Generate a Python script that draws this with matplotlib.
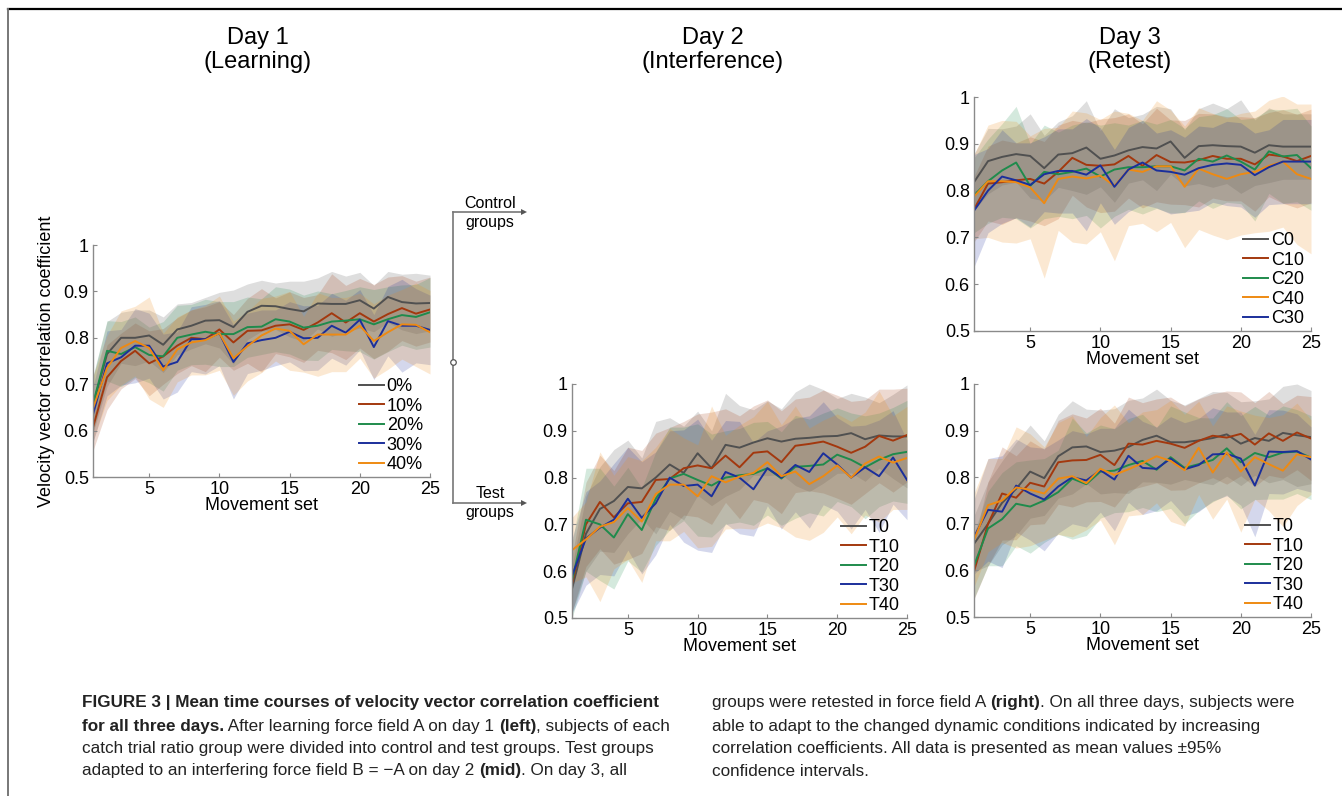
import matplotlib
matplotlib.use("Agg")
import matplotlib.pyplot as plt
from matplotlib.lines import Line2D
import numpy as np

W, H = 1342, 796
plt.rcParams['font.family'] = ['Liberation Sans', 'DejaVu Sans']

sets = np.arange(1, 26)
xticks = [5, 10, 15, 20, 25]
yticks = [0.5, 0.6, 0.7, 0.8, 0.9, 1.0]
colors = ['#505050', '#A3380E', '#1F8B4C', '#1B2F9B', '#EE8A12']

# ---------------- Day 1 (Learning) ----------------
d1_labels = ['0%', '10%', '20%', '30%', '40%']
d1_g0 = [0.655, 0.765, 0.800, 0.800, 0.805, 0.785, 0.818, 0.826, 0.837, 0.838, 0.823, 0.856, 0.869,
         0.868, 0.862, 0.857, 0.874, 0.873, 0.873, 0.881, 0.863, 0.888, 0.877, 0.874, 0.875]
d1_g10 = [0.607, 0.715, 0.750, 0.772, 0.745, 0.760, 0.783, 0.800, 0.797, 0.818, 0.790, 0.815, 0.816,
          0.826, 0.829, 0.817, 0.833, 0.853, 0.833, 0.853, 0.835, 0.851, 0.864, 0.852, 0.861]
d1_g20 = [0.658, 0.772, 0.765, 0.780, 0.763, 0.760, 0.800, 0.807, 0.813, 0.808, 0.808, 0.823, 0.824,
          0.840, 0.835, 0.822, 0.826, 0.835, 0.837, 0.840, 0.829, 0.840, 0.849, 0.845, 0.855]
d1_g30 = [0.635, 0.745, 0.758, 0.783, 0.783, 0.738, 0.748, 0.797, 0.797, 0.810, 0.748, 0.788, 0.795,
          0.800, 0.813, 0.799, 0.800, 0.826, 0.811, 0.839, 0.780, 0.836, 0.826, 0.826, 0.817]
d1_g40 = [0.648, 0.735, 0.778, 0.793, 0.778, 0.730, 0.775, 0.790, 0.795, 0.810, 0.756, 0.782, 0.805,
          0.820, 0.815, 0.786, 0.807, 0.807, 0.807, 0.826, 0.793, 0.812, 0.829, 0.828, 0.812]
d1_ci0 = [0.06, 0.07, 0.055, 0.06, 0.055, 0.06, 0.055, 0.05, 0.05, 0.06, 0.08, 0.06, 0.055,
          0.05, 0.06, 0.065, 0.055, 0.07, 0.06, 0.06, 0.05, 0.055, 0.06, 0.065, 0.06]
d1_ci10 = [0.05, 0.07, 0.06, 0.06, 0.07, 0.06, 0.06, 0.06, 0.07, 0.06, 0.06, 0.07, 0.09,
           0.06, 0.07, 0.07, 0.06, 0.085, 0.08, 0.075, 0.08, 0.08, 0.07, 0.07, 0.07]
d1_ci20 = [0.06, 0.065, 0.07, 0.065, 0.06, 0.075, 0.07, 0.065, 0.07, 0.07, 0.07, 0.065, 0.06,
           0.07, 0.07, 0.07, 0.075, 0.06, 0.065, 0.07, 0.075, 0.07, 0.065, 0.07, 0.075]
d1_ci30 = [0.06, 0.07, 0.06, 0.08, 0.07, 0.07, 0.065, 0.07, 0.075, 0.07, 0.08, 0.065, 0.065,
           0.06, 0.065, 0.07, 0.07, 0.07, 0.07, 0.065, 0.07, 0.075, 0.10, 0.08, 0.075]
d1_ci40 = [0.07, 0.07, 0.08, 0.075, 0.11, 0.08, 0.07, 0.07, 0.075, 0.08, 0.08, 0.075, 0.08,
           0.07, 0.085, 0.06, 0.09, 0.08, 0.08, 0.07, 0.08, 0.08, 0.075, 0.09, 0.09]

# ---------------- Day 2 (Interference), test groups ----------------
d2_labels = ['T0', 'T10', 'T20', 'T30', 'T40']
d2_t0 = [0.562, 0.680, 0.733, 0.750, 0.780, 0.777, 0.800, 0.828, 0.810, 0.852, 0.820, 0.870, 0.864,
         0.875, 0.884, 0.877, 0.883, 0.885, 0.888, 0.889, 0.895, 0.882, 0.890, 0.888, 0.888]
d2_t10 = [0.573, 0.700, 0.748, 0.715, 0.745, 0.748, 0.795, 0.797, 0.820, 0.826, 0.820, 0.847, 0.822,
          0.853, 0.856, 0.833, 0.868, 0.872, 0.877, 0.866, 0.853, 0.866, 0.889, 0.879, 0.891]
d2_t20 = [0.580, 0.710, 0.700, 0.672, 0.722, 0.688, 0.755, 0.798, 0.808, 0.795, 0.783, 0.800, 0.805,
          0.808, 0.820, 0.798, 0.823, 0.825, 0.828, 0.849, 0.838, 0.822, 0.838, 0.850, 0.855]
d2_t30 = [0.590, 0.670, 0.693, 0.710, 0.755, 0.714, 0.745, 0.800, 0.782, 0.785, 0.760, 0.812, 0.800,
          0.775, 0.820, 0.800, 0.827, 0.812, 0.852, 0.828, 0.800, 0.822, 0.803, 0.843, 0.795]
d2_t40 = [0.645, 0.668, 0.695, 0.705, 0.735, 0.706, 0.765, 0.785, 0.785, 0.760, 0.803, 0.790, 0.802,
          0.810, 0.833, 0.803, 0.813, 0.786, 0.803, 0.826, 0.800, 0.830, 0.845, 0.832, 0.842]
d2_ci0 = [0.05, 0.08, 0.09, 0.11, 0.10, 0.065, 0.12, 0.10, 0.10, 0.09, 0.08, 0.11, 0.09,
          0.07, 0.08, 0.07, 0.10, 0.115, 0.10, 0.08, 0.085, 0.09, 0.07, 0.09, 0.11]
d2_ci10 = [0.06, 0.09, 0.10, 0.10, 0.12, 0.11, 0.10, 0.11, 0.10, 0.11, 0.12, 0.10, 0.11,
           0.10, 0.11, 0.11, 0.10, 0.10, 0.11, 0.11, 0.11, 0.10, 0.10, 0.11, 0.10]
d2_ci20 = [0.08, 0.11, 0.12, 0.11, 0.10, 0.09, 0.10, 0.11, 0.10, 0.12, 0.11, 0.10, 0.10,
           0.11, 0.10, 0.10, 0.11, 0.10, 0.11, 0.10, 0.10, 0.11, 0.10, 0.10, 0.11]
d2_ci30 = [0.08, 0.10, 0.10, 0.12, 0.11, 0.12, 0.11, 0.10, 0.12, 0.14, 0.12, 0.11, 0.12,
           0.10, 0.08, 0.11, 0.10, 0.12, 0.11, 0.10, 0.11, 0.09, 0.12, 0.10, 0.085]
d2_ci40 = [0.07, 0.08, 0.16, 0.10, 0.11, 0.13, 0.10, 0.12, 0.10, 0.11, 0.15, 0.10, 0.11,
           0.12, 0.13, 0.11, 0.14, 0.12, 0.12, 0.11, 0.12, 0.11, 0.14, 0.10, 0.11]

# ---------------- Day 3 (Retest), control groups ----------------
d3c_labels = ['C0', 'C10', 'C20', 'C40', 'C30']
d3c_c0 = [0.818, 0.863, 0.872, 0.878, 0.874, 0.848, 0.877, 0.880, 0.892, 0.868, 0.875, 0.886, 0.893,
          0.890, 0.905, 0.870, 0.895, 0.897, 0.895, 0.894, 0.881, 0.897, 0.894, 0.894, 0.894]
d3c_c10 = [0.760, 0.815, 0.818, 0.822, 0.825, 0.815, 0.840, 0.870, 0.855, 0.853, 0.856, 0.874, 0.853,
           0.876, 0.861, 0.860, 0.865, 0.874, 0.868, 0.868, 0.856, 0.877, 0.873, 0.863, 0.874]
d3c_c20 = [0.790, 0.820, 0.843, 0.860, 0.810, 0.840, 0.835, 0.840, 0.847, 0.830, 0.845, 0.850, 0.850,
           0.852, 0.852, 0.843, 0.868, 0.862, 0.875, 0.862, 0.845, 0.884, 0.873, 0.876, 0.848]
d3c_c40 = [0.787, 0.820, 0.820, 0.818, 0.807, 0.773, 0.825, 0.830, 0.826, 0.832, 0.810, 0.845, 0.840,
           0.852, 0.852, 0.808, 0.847, 0.835, 0.825, 0.835, 0.840, 0.853, 0.862, 0.835, 0.825]
d3c_c30 = [0.757, 0.800, 0.830, 0.822, 0.812, 0.835, 0.842, 0.842, 0.834, 0.854, 0.808, 0.845, 0.860,
           0.843, 0.840, 0.834, 0.848, 0.855, 0.858, 0.855, 0.833, 0.850, 0.862, 0.862, 0.862]
d3c_ci0 = [0.06, 0.07, 0.06, 0.06, 0.09, 0.07, 0.07, 0.08, 0.10, 0.06, 0.10, 0.07, 0.07,
           0.09, 0.07, 0.06, 0.08, 0.09, 0.08, 0.10, 0.07, 0.08, 0.07, 0.07, 0.07]
d3c_ci10 = [0.07, 0.08, 0.09, 0.08, 0.09, 0.09, 0.10, 0.08, 0.09, 0.10, 0.10, 0.09, 0.09,
            0.10, 0.09, 0.09, 0.10, 0.09, 0.09, 0.09, 0.10, 0.09, 0.10, 0.10, 0.10]
d3c_ci20 = [0.08, 0.09, 0.10, 0.12, 0.09, 0.10, 0.09, 0.10, 0.10, 0.11, 0.10, 0.09, 0.10,
            0.09, 0.10, 0.09, 0.09, 0.10, 0.10, 0.09, 0.11, 0.09, 0.10, 0.10, 0.09]
d3c_ci40 = [0.09, 0.12, 0.13, 0.13, 0.11, 0.16, 0.11, 0.14, 0.14, 0.12, 0.16, 0.12, 0.11,
            0.14, 0.12, 0.13, 0.13, 0.13, 0.13, 0.13, 0.13, 0.14, 0.14, 0.15, 0.16]
d3c_ci30 = [0.12, 0.09, 0.10, 0.08, 0.09, 0.08, 0.09, 0.09, 0.12, 0.08, 0.08, 0.09, 0.09,
            0.08, 0.09, 0.08, 0.09, 0.08, 0.09, 0.09, 0.09, 0.08, 0.09, 0.09, 0.09]

# ---------------- Day 3 (Retest), test groups ----------------
d3t_labels = ['T0', 'T10', 'T20', 'T30', 'T40']
d3t_t0 = [0.657, 0.700, 0.745, 0.775, 0.812, 0.798, 0.845, 0.864, 0.866, 0.854, 0.857, 0.865, 0.880,
          0.889, 0.875, 0.875, 0.879, 0.884, 0.892, 0.872, 0.884, 0.878, 0.895, 0.890, 0.886]
d3t_t10 = [0.598, 0.700, 0.765, 0.756, 0.788, 0.780, 0.832, 0.836, 0.837, 0.848, 0.826, 0.872, 0.870,
           0.878, 0.872, 0.863, 0.878, 0.889, 0.885, 0.893, 0.870, 0.894, 0.878, 0.896, 0.883]
d3t_t20 = [0.610, 0.690, 0.710, 0.743, 0.737, 0.750, 0.768, 0.797, 0.785, 0.812, 0.814, 0.826, 0.835,
           0.816, 0.843, 0.820, 0.828, 0.837, 0.862, 0.832, 0.852, 0.843, 0.853, 0.855, 0.842]
d3t_t30 = [0.672, 0.730, 0.726, 0.782, 0.765, 0.752, 0.780, 0.800, 0.793, 0.815, 0.795, 0.846, 0.820,
           0.818, 0.840, 0.817, 0.826, 0.849, 0.850, 0.840, 0.782, 0.855, 0.854, 0.856, 0.838]
d3t_t40 = [0.665, 0.740, 0.750, 0.778, 0.773, 0.765, 0.797, 0.802, 0.787, 0.818, 0.805, 0.817, 0.830,
           0.845, 0.835, 0.815, 0.863, 0.810, 0.853, 0.812, 0.843, 0.828, 0.814, 0.849, 0.843]
d3t_ci0 = [0.06, 0.09, 0.09, 0.10, 0.10, 0.08, 0.09, 0.10, 0.08, 0.09, 0.09, 0.10, 0.09,
           0.10, 0.09, 0.08, 0.09, 0.10, 0.09, 0.09, 0.08, 0.09, 0.10, 0.11, 0.10]
d3t_ci10 = [0.06, 0.09, 0.10, 0.09, 0.09, 0.08, 0.09, 0.10, 0.09, 0.10, 0.09, 0.10, 0.09,
            0.09, 0.10, 0.09, 0.09, 0.09, 0.10, 0.09, 0.09, 0.09, 0.08, 0.08, 0.09]
d3t_ci20 = [0.07, 0.08, 0.10, 0.09, 0.10, 0.09, 0.09, 0.13, 0.11, 0.10, 0.09, 0.10, 0.10,
            0.09, 0.11, 0.12, 0.10, 0.09, 0.10, 0.10, 0.10, 0.09, 0.10, 0.09, 0.09]
d3t_ci30 = [0.08, 0.11, 0.12, 0.10, 0.10, 0.11, 0.10, 0.10, 0.10, 0.09, 0.11, 0.10, 0.10,
            0.09, 0.09, 0.10, 0.10, 0.10, 0.09, 0.10, 0.11, 0.09, 0.09, 0.08, 0.07]
d3t_ci40 = [0.10, 0.10, 0.09, 0.13, 0.12, 0.10, 0.12, 0.13, 0.10, 0.11, 0.15, 0.10, 0.11,
            0.10, 0.13, 0.12, 0.10, 0.10, 0.10, 0.13, 0.09, 0.10, 0.12, 0.11, 0.08]

panel_titles = ['Day 1\n(Learning)', 'Day 2\n(Interference)', 'Day 3\n(Retest)']
ylabel_text = 'Velocity vector correlation coefficient'
xlabel_text = 'Movement set'

fig = plt.figure(figsize=(W / 100, H / 100), dpi=100)


def px_axes(left, top, right, bottom):
    return fig.add_axes([left / W, 1 - bottom / H, (right - left) / W, (bottom - top) / H])


def fx(x):
    return x / W


def fy(y):
    return 1 - y / H


def draw_panel(ax, means, cis, labels, cols, show_ylabel=False):
    for m, c, col in zip(means, cis, cols):
        m = np.array(m)
        c = np.array(c)
        ax.fill_between(sets, m - c, m + c, color=col, alpha=0.19, linewidth=0)
    handles = []
    for m, lab, col in zip(means, labels, cols):
        h, = ax.plot(sets, m, color=col, lw=1.4, label=lab)
        handles.append(h)
    ax.set_xlim(1, 25)
    ax.set_ylim(0.5, 1.0)
    ax.set_xticks(xticks)
    ax.set_yticks(yticks)
    ax.set_yticklabels(['%g' % v for v in yticks])
    for s in ['top', 'right']:
        ax.spines[s].set_visible(False)
    for s in ['left', 'bottom']:
        ax.spines[s].set_color('#8a8a8a')
        ax.spines[s].set_linewidth(1.0)
    ax.tick_params(direction='in', length=3, color='#8a8a8a', labelsize=13, pad=3)
    ax.set_xlabel(xlabel_text, fontsize=13, labelpad=-1)
    if show_ylabel:
        ax.set_ylabel(ylabel_text, fontsize=13, labelpad=6)
    ax.legend(handles=handles, loc='lower right', frameon=False, fontsize=13,
              handlelength=1.4, handletextpad=0.15, labelspacing=0.14,
              borderaxespad=0.0, bbox_to_anchor=(1.0, -0.015))
    ax.patch.set_alpha(0)


ax1 = px_axes(93, 245, 430, 477)
draw_panel(ax1, [d1_g0, d1_g10, d1_g20, d1_g30, d1_g40],
           [d1_ci0, d1_ci10, d1_ci20, d1_ci30, d1_ci40], d1_labels, colors, show_ylabel=True)

ax2 = px_axes(572, 384, 907, 618)
draw_panel(ax2, [d2_t0, d2_t10, d2_t20, d2_t30, d2_t40],
           [d2_ci0, d2_ci10, d2_ci20, d2_ci30, d2_ci40], d2_labels, colors)

ax3 = px_axes(974, 97, 1311, 331)
c3 = [colors[0], colors[1], colors[2], colors[4], colors[3]]
draw_panel(ax3, [d3c_c0, d3c_c10, d3c_c20, d3c_c40, d3c_c30],
           [d3c_ci0, d3c_ci10, d3c_ci20, d3c_ci40, d3c_ci30], d3c_labels, c3)

ax4 = px_axes(974, 384, 1311, 617)
draw_panel(ax4, [d3t_t0, d3t_t10, d3t_t20, d3t_t30, d3t_t40],
           [d3t_ci0, d3t_ci10, d3t_ci20, d3t_ci30, d3t_ci40], d3t_labels, colors)

# Column titles
for xc, t in zip([258, 713, 1130], panel_titles):
    fig.text(fx(xc), fy(50), t, ha='center', va='center', fontsize=17, linespacing=1.15)

# Branch diagram
gcol = '#777777'
fig.add_artist(Line2D([fx(453), fx(453)], [fy(212), fy(503)], color=gcol, lw=1.2))
fig.add_artist(Line2D([fx(453)], [fy(362)], marker='o', ms=4, mfc='white', mec='#555555', mew=0.9))
for yy in [212, 503]:
    fig.add_artist(Line2D([fx(453), fx(522)], [fy(yy), fy(yy)], color=gcol, lw=1.2))
    fig.add_artist(Line2D([fx(524)], [fy(yy)], marker='>', ms=4, color='#555555', mew=0))
fig.text(fx(490), fy(203), 'Control', ha='center', va='center', fontsize=11.5)
fig.text(fx(490), fy(223), 'groups', ha='center', va='center', fontsize=11.5)
fig.text(fx(490), fy(493), 'Test', ha='center', va='center', fontsize=11.5)
fig.text(fx(490), fy(513), 'groups', ha='center', va='center', fontsize=11.5)

# Frame lines
fig.add_artist(Line2D([fx(8), 1.0], [fy(9), fy(9)], color='black', lw=1.6))
fig.add_artist(Line2D([fx(8), fx(8)], [fy(9), 0.0], color='#777777', lw=1.4))

# Caption
cap_font = ['Liberation Sans', 'DejaVu Sans']
cap_size = 12.3
left_lines = [
    [("FIGURE 3 | Mean time courses of velocity vector correlation coefficient", True)],
    [("for all three days.", True), (" After learning force field A on day 1 ", False),
     ("(left)", True), (", subjects of each", False)],
    [("catch trial ratio group were divided into control and test groups. Test groups", False)],
    [("adapted to an interfering force field B = \u2212A on day 2 ", False), ("(mid)", True),
     (". On day 3, all", False)],
]
right_lines = [
    [("groups were retested in force field A ", False), ("(right)", True),
     (". On all three days, subjects were", False)],
    [("able to adapt to the changed dynamic conditions indicated by increasing", False)],
    [("correlation coefficients. All data is presented as mean values \u00b195%", False)],
    [("confidence intervals.", False)],
]
line_y = [703, 726, 749, 771]

fig.canvas.draw()
renderer = fig.canvas.get_renderer()


def draw_runs(x0, y, runs):
    x = x0
    for txt, bold in runs:
        t = fig.text(fx(x), fy(y), txt, ha='left', va='center', fontsize=cap_size,
                     family=cap_font, fontweight='bold' if bold else 'normal', color='#222222')
        bb = t.get_window_extent(renderer)
        x += bb.width


for yy, runs in zip(line_y, left_lines):
    draw_runs(82, yy, runs)
for yy, runs in zip(line_y, right_lines):
    draw_runs(712, yy, runs)

fig.savefig('out.png', dpi=100)
